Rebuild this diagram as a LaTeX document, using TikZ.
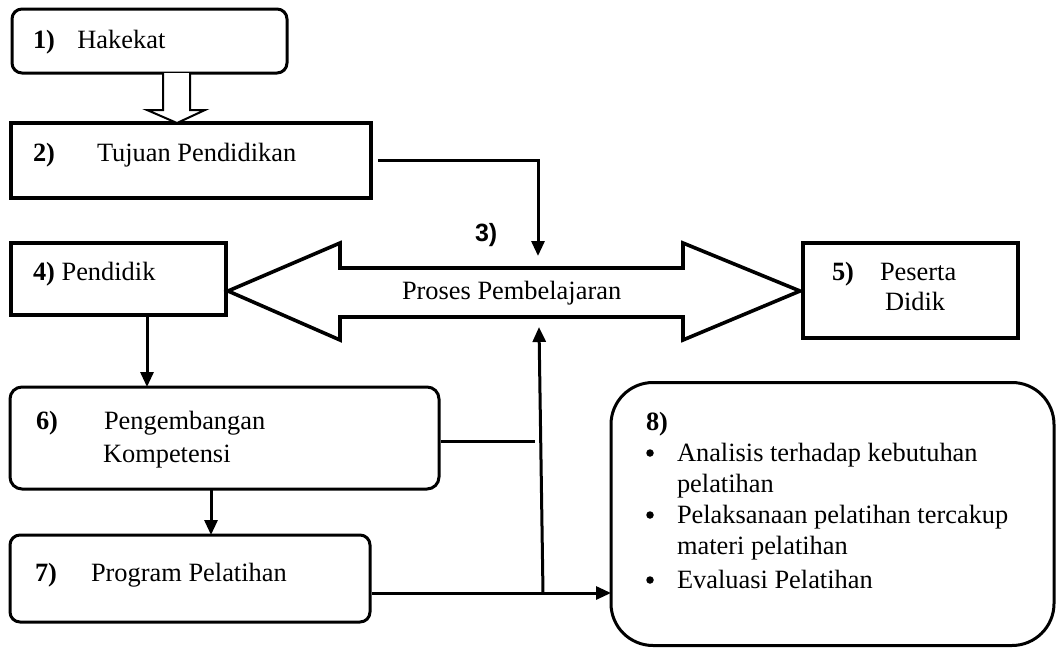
\documentclass[tikz,border=0pt]{standalone}
\usepackage{fontspec}
\setmainfont{Liberation Serif}
\newfontfamily\arialfont{Liberation Sans}
\usetikzlibrary{arrows.meta,calc}
\begin{document}
\begin{tikzpicture}[x=1pt,y=-1pt,
  box/.style={draw,line width=3pt,inner sep=0pt,outer sep=0pt,fill=white},
  sqbox/.style={box,line width=3.6pt},
  rbox/.style={box,rounded corners=10pt},
  txt/.style={anchor=base west,inner sep=0pt,outer sep=0pt,font=\fontsize{26.4}{31.7}\selectfont},
  bul/.style={circle,fill=black,inner sep=0pt,minimum size=7.5pt},
  arr/.style={line width=3pt,-{Triangle[width=13pt,length=15pt]}},
  ln/.style={line width=3pt}]
\useasboundingbox (0,0) rectangle (1057,648);

% boxes
\node[rbox,minimum width=275pt,minimum height=64pt] (b1) at (149.5,41) {};
\node[sqbox,minimum width=360pt,minimum height=75pt] (b2) at (191,160.5) {};
\node[sqbox,minimum width=215pt,minimum height=72pt] (b4) at (118.5,279) {};
\node[sqbox,minimum width=215pt,minimum height=95pt] (b5) at (910.5,290.5) {};
\node[rbox,minimum width=429pt,minimum height=102pt,rounded corners=12pt] (b6) at (224.5,438) {};
\node[rbox,minimum width=360pt,minimum height=87pt] (b7) at (190,578.5) {};
\node[rbox,minimum width=443pt,minimum height=263pt,rounded corners=42pt] (b8) at (832.5,514) {};

% hollow arrow 1 -> 2
\draw[line width=2pt,fill=white,line join=miter] (163,73) -- (163,110) -- (147,110) -- (177,123) -- (205,110) -- (190,110) -- (190,73);

% double arrow (process)
\draw[line width=3.6pt,line join=miter,fill=white] (228,291) -- (340,243) -- (340,268) -- (683,268) -- (683,243) -- (800,291) -- (683,340) -- (683,317) -- (340,317) -- (340,340) -- cycle;
\node[txt] (pp) at (402,299) {Proses Pembelajaran};
\node[txt,font=\arialfont\bfseries\fontsize{25}{30}\selectfont] (n3) at (475,241) {3)};

% texts
\node[txt] (t1) at (33,48) {\textbf{1)}\hspace{0.85em}Hakekat};
\node[txt] (t2a) at (33,161) {\textbf{2)}};
\node[txt] (t2b) at (97,161) {Tujuan Pendidikan};
\node[txt] (t4) at (33,280) {\textbf{4)} Pendidik};
\node[txt] (t5a) at (832,280) {\textbf{5)}};
\node[txt] (t5b) at (880,280) {Peserta};
\node[txt] (t5c) at (885,310) {Didik};
\node[txt] (t6a) at (36,429) {\textbf{6)}};
\node[txt] (t6b) at (104,429) {Pengembangan};
\node[txt] (t6c) at (103,462) {Kompetensi};
\node[txt] (t7a) at (35,581) {\textbf{7)}};
\node[txt] (t7b) at (91,581) {Program Pelatihan};
\node[txt] (t8) at (646,430) {\textbf{8)}};
\node[bul] (bu1) at (650,453) {};
\node[txt] (l1) at (677,461) {Analisis terhadap kebutuhan};
\node[txt] (l2) at (677,492) {pelatihan};
\node[bul] (bu2) at (650,515) {};
\node[txt] (l3) at (677,523) {Pelaksanaan pelatihan tercakup};
\node[txt] (l4) at (677,554) {materi pelatihan};
\node[bul] (bu3) at (650,580) {};
\node[txt] (l5) at (677,588) {Evaluasi Pelatihan};

% connectors
\coordinate (ptop) at (538,256);
\coordinate (pbot) at (539,327);
\coordinate (j7) at (543,593);
\coordinate (x147) at (147,0);
\coordinate (x211) at (211,0);
\draw[arr] ($(b2.east)+(7,0)$) -| (ptop);
\draw[arr] (b4.south -| x147) -- (b6.north -| x147);
\draw[arr] (b6.south -| x211) -- (b7.north -| x211);
\draw[ln] ($(b6.east)+(2,3)$) -- ++(94,0);
\draw[arr] ($(b7.east)+(2,14.5)$) -- (b8.west |- j7);
\draw[arr] (j7) -- (pbot);
\end{tikzpicture}
\end{document}
